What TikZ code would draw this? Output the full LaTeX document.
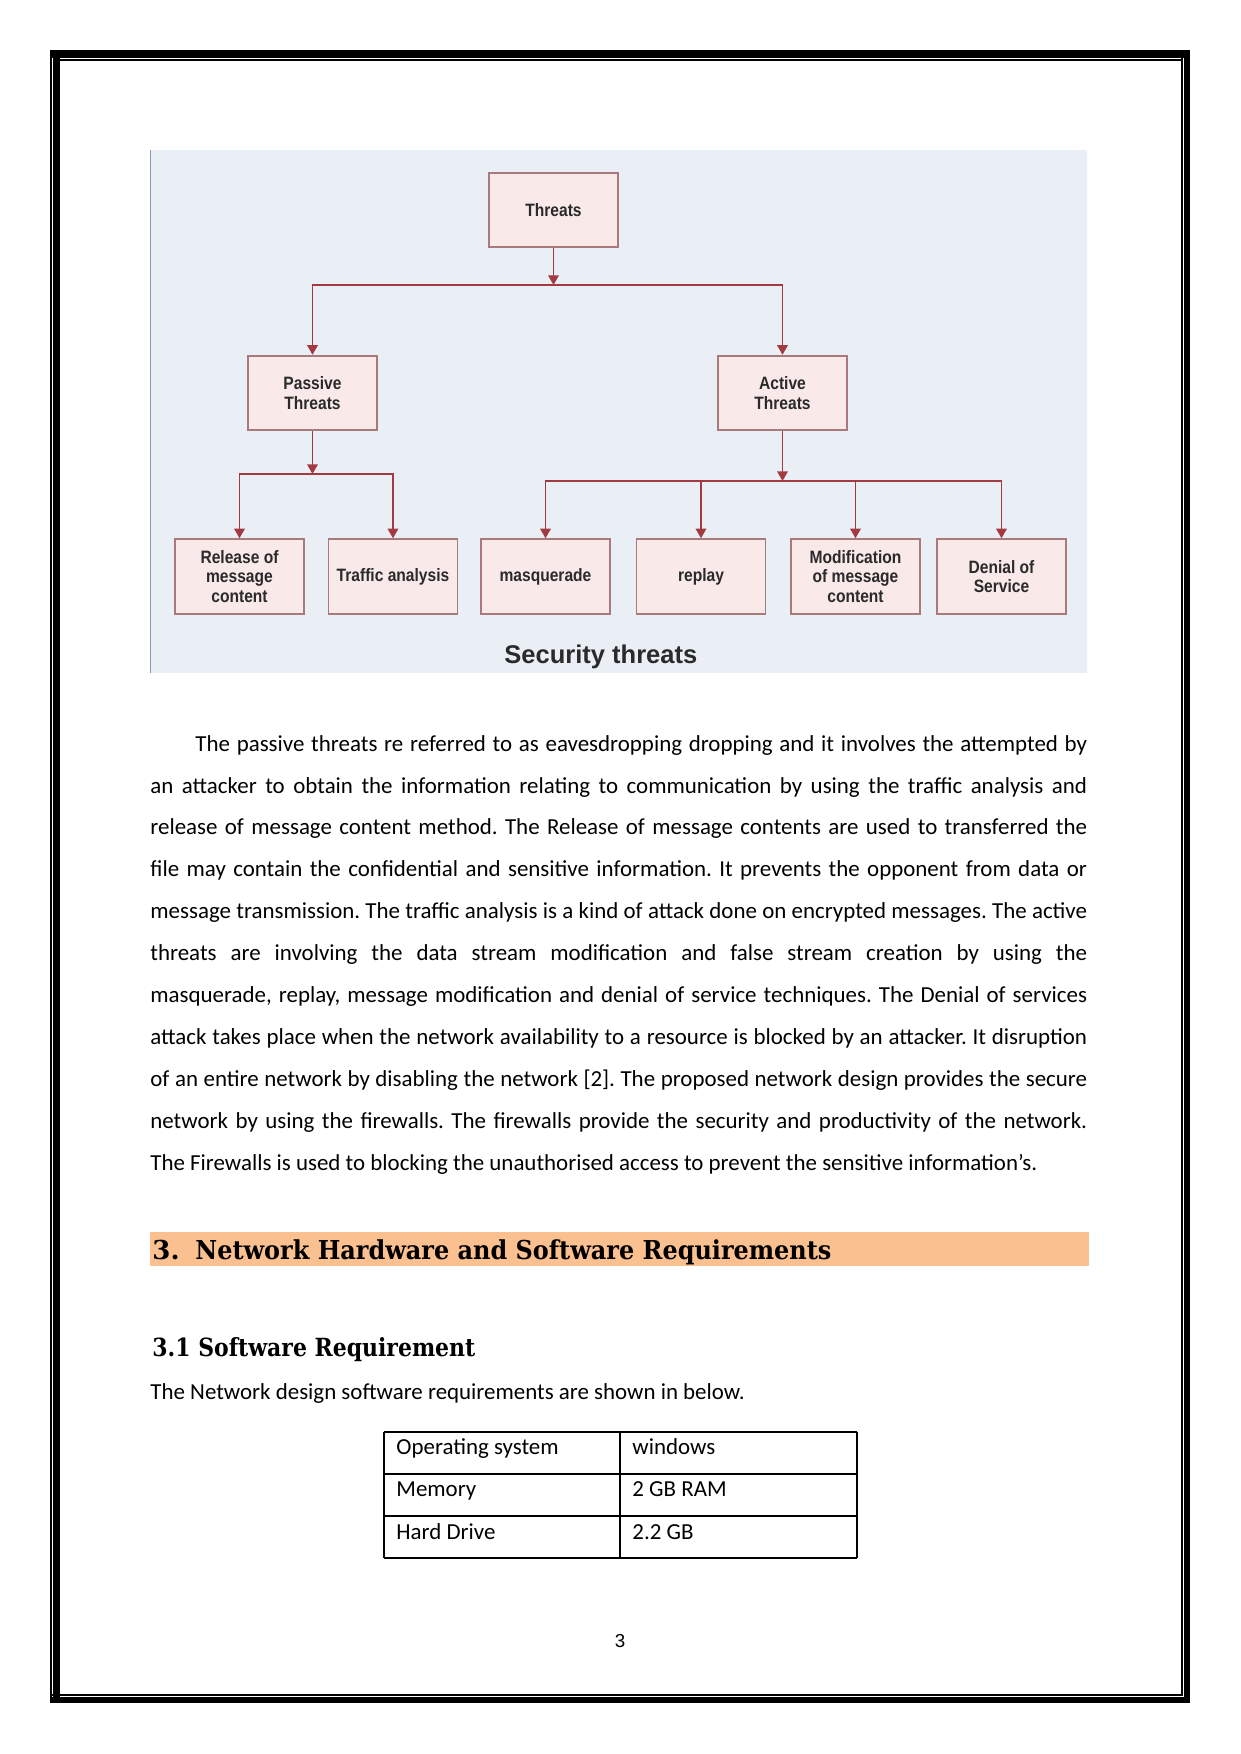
\documentclass[tikz,border=0pt]{standalone}
\usepackage{fontspec}
\usepackage{graphicx}
\setmainfont{Carlito}
\newfontfamily\diagfont[FakeStretch=0.87]{Liberation Sans}
\newfontfamily\capfont{Liberation Sans}
\newfontfamily\headfont{DejaVu Serif}
\usetikzlibrary{arrows.meta}
\definecolor{bgblue}{HTML}{EAEFF5}
\definecolor{boxfill}{HTML}{F9E9E9}
\definecolor{boxdraw}{HTML}{A97A7C}
\definecolor{edgered}{HTML}{A33A42}
\definecolor{headorange}{HTML}{FAC08F}
\definecolor{txtgray}{HTML}{2A2A2A}
\definecolor{bgedge}{HTML}{8C9BB0}
\newsavebox\fitbox
\newdimen\fitdim
\newcommand\fitto[2]{\sbox\fitbox{#2}\fitdim=\wd\fitbox\pgfmathsetmacro\fitsc{#1/\fitdim}\scalebox{\fitsc}[1]{\usebox\fitbox}}
\frenchspacing
\tikzset{
  threatbox/.style={draw=boxdraw, fill=boxfill, line width=0.9pt, minimum width=61.9pt, minimum height=35.8pt, inner sep=1pt, align=center, text=txtgray, font=\diagfont\bfseries\fontsize{8.6}{9.3}\selectfont},
  conn/.style={draw=edgered, line width=0.9pt, -{Triangle[width=5pt,length=4.6pt]}},
  bodyline/.style={anchor=base west, inner sep=0pt, font=\fontsize{11}{13}\selectfont},
  tabline/.style={line width=0.6pt},
  thinrule/.style={line width=0.96pt},
  thickrule/.style={line width=2.9pt},
}
\begin{document}
\begin{tikzpicture}[x=0.48pt,y=-0.48pt]
\useasboundingbox (0,0) rectangle (1241,1754);
% page border
\draw[thickrule, line width=3.4pt] (50,54) -- (1190,54);
\draw[thinrule] (59,59.8) -- (1182,59.8);
\draw[thinrule] (51,50) -- (51,1697);
\draw[thickrule] (56.5,50) -- (56.5,1703.3);
\draw[thinrule] (1181.8,57) -- (1181.8,1696);
\draw[thickrule] (1187,50) -- (1187,1703.3);
\draw[thinrule] (51,1695.4) -- (1182,1695.4);
\draw[thickrule] (50,1700.3) -- (1190,1700.3);
% diagram background
\fill[bgblue] (150,150) rectangle (1087,673);
\draw[bgedge, line width=0.7pt] (150.5,150) -- (150.5,673);
% nodes
\node[threatbox] (t) at (553.5,210) {Threats};
\node[threatbox] (p) at (312.5,393) {Passive\\Threats};
\node[threatbox] (a) at (782.5,393) {Active\\Threats};
\node[threatbox] (rel) at (239.5,576.5) {Release of\\message\\content};
\node[threatbox] (tra) at (393,576.5) {Traffic analysis};
\node[threatbox] (mas) at (545.5,576.5) {masquerade};
\node[threatbox] (rep) at (701,576.5) {replay};
\node[threatbox] (mod) at (855.5,576.5) {Modification\\of message\\content};
\node[threatbox] (den) at (1001.5,576.5) {Denial of\\Service};
\coordinate (j1) at (553.5,285);
\coordinate (j2) at (312.5,474);
\coordinate (j3) at (782.5,481);
\draw[conn] (t.south) -- (j1);
\draw[conn] (j1) -| (p.north);
\draw[conn] (j1) -| (a.north);
\draw[conn] (p.south) -- (j2);
\draw[conn] (j2) -| (rel.north);
\draw[conn] (j2) -| (tra.north);
\draw[conn] (a.south) -- (j3);
\draw[conn] (j3) -| (mas.north);
\draw[conn] (j3) -| (rep.north);
\draw[conn] (j3) -| (mod.north);
\draw[conn] (j3) -| (den.north);
\node[anchor=base west, inner sep=0pt, text=txtgray] (cap) at (504,663) {\fitto{92.6pt}{\capfont\bfseries\fontsize{12.3}{14}\selectfont Security threats}};
% paragraph
\node[bodyline] (l1) at (195,751) {\makebox[428pt][s]{The passive threats re referred to as eavesdropping dropping and it involves the attempted by}};
\node[bodyline] (l2) at (150,793) {\makebox[449.6pt][s]{an attacker to obtain the information relating to communication by using the traffic analysis and}};
\node[bodyline] (l3) at (150,834.9) {\makebox[449.6pt][s]{release of message content method. The Release of message contents are used to transferred the}};
\node[bodyline] (l4) at (150,876.9) {\makebox[449.6pt][s]{file may contain the confidential and sensitive information. It prevents the opponent from data or}};
\node[bodyline] (l5) at (150,918.8) {\makebox[449.6pt][s]{message transmission. The traffic analysis is a kind of attack done on encrypted messages. The active}};
\node[bodyline] (l6) at (150,960.8) {\makebox[449.6pt][s]{threats are involving the data stream modification and false stream creation by using the}};
\node[bodyline] (l7) at (150,1002.8) {\makebox[449.6pt][s]{masquerade, replay, message modification and denial of service techniques. The Denial of services}};
\node[bodyline] (l8) at (150,1044.7) {\makebox[449.6pt][s]{attack takes place when the network availability to a resource is blocked by an attacker. It disruption}};
\node[bodyline] (l9) at (150,1086.7) {\makebox[449.6pt][s]{of an entire network by disabling the network [2]. The proposed network design provides the secure}};
\node[bodyline] (l10) at (150,1128.6) {\makebox[449.6pt][s]{network by using the firewalls. The firewalls provide the security and productivity of the network.}};
\node[bodyline] (l11) at (150,1170.6) {The Firewalls is used to blocking the unauthorised access to prevent the sensitive information’s.};
% heading
\fill[headorange] (150,1232) rectangle (1089,1266);
\node[anchor=base west, inner sep=0pt] (h3) at (152,1259) {\headfont\bfseries\fontsize{12.5}{15}\selectfont 3.};
\node[anchor=base west, inner sep=0pt] (hN) at (195,1259) {\fitto{305.3pt}{\headfont\bfseries\fontsize{12.5}{15}\selectfont Network Hardware and Software Requirements}};
\node[anchor=base west, inner sep=0pt] (h31) at (152,1356) {\fitto{155pt}{\headfont\bfseries\fontsize{12}{15}\selectfont 3.1 Software Requirement}};
\node[bodyline] (intro) at (150,1399.5) {The Network design software requirements are shown in below.};
% table
\draw[line width=0.9pt] (384,1432) -- (857,1432);
\draw[tabline] (384,1474) -- (857,1474);
\draw[tabline] (384,1516) -- (857,1516);
\draw[tabline] (384,1558) -- (857,1558);
\draw[tabline] (384,1432) -- (384,1558);
\draw[tabline] (620,1432) -- (620,1558);
\draw[tabline] (857,1432) -- (857,1558);
\node[bodyline] (c11) at (396,1454.5) {Operating system};
\node[bodyline] (c12) at (632,1454.5) {windows};
\node[bodyline] (c21) at (396,1496.5) {Memory};
\node[bodyline] (c22) at (632,1496.5) {2 GB RAM};
\node[bodyline] (c31) at (396,1539) {Hard Drive};
\node[bodyline] (c32) at (632,1539) {2.2 GB};
% page number
\node[anchor=base, inner sep=0pt] (pg) at (620,1647) {\capfont\fontsize{9}{11}\selectfont 3};
\end{tikzpicture}
\end{document}
